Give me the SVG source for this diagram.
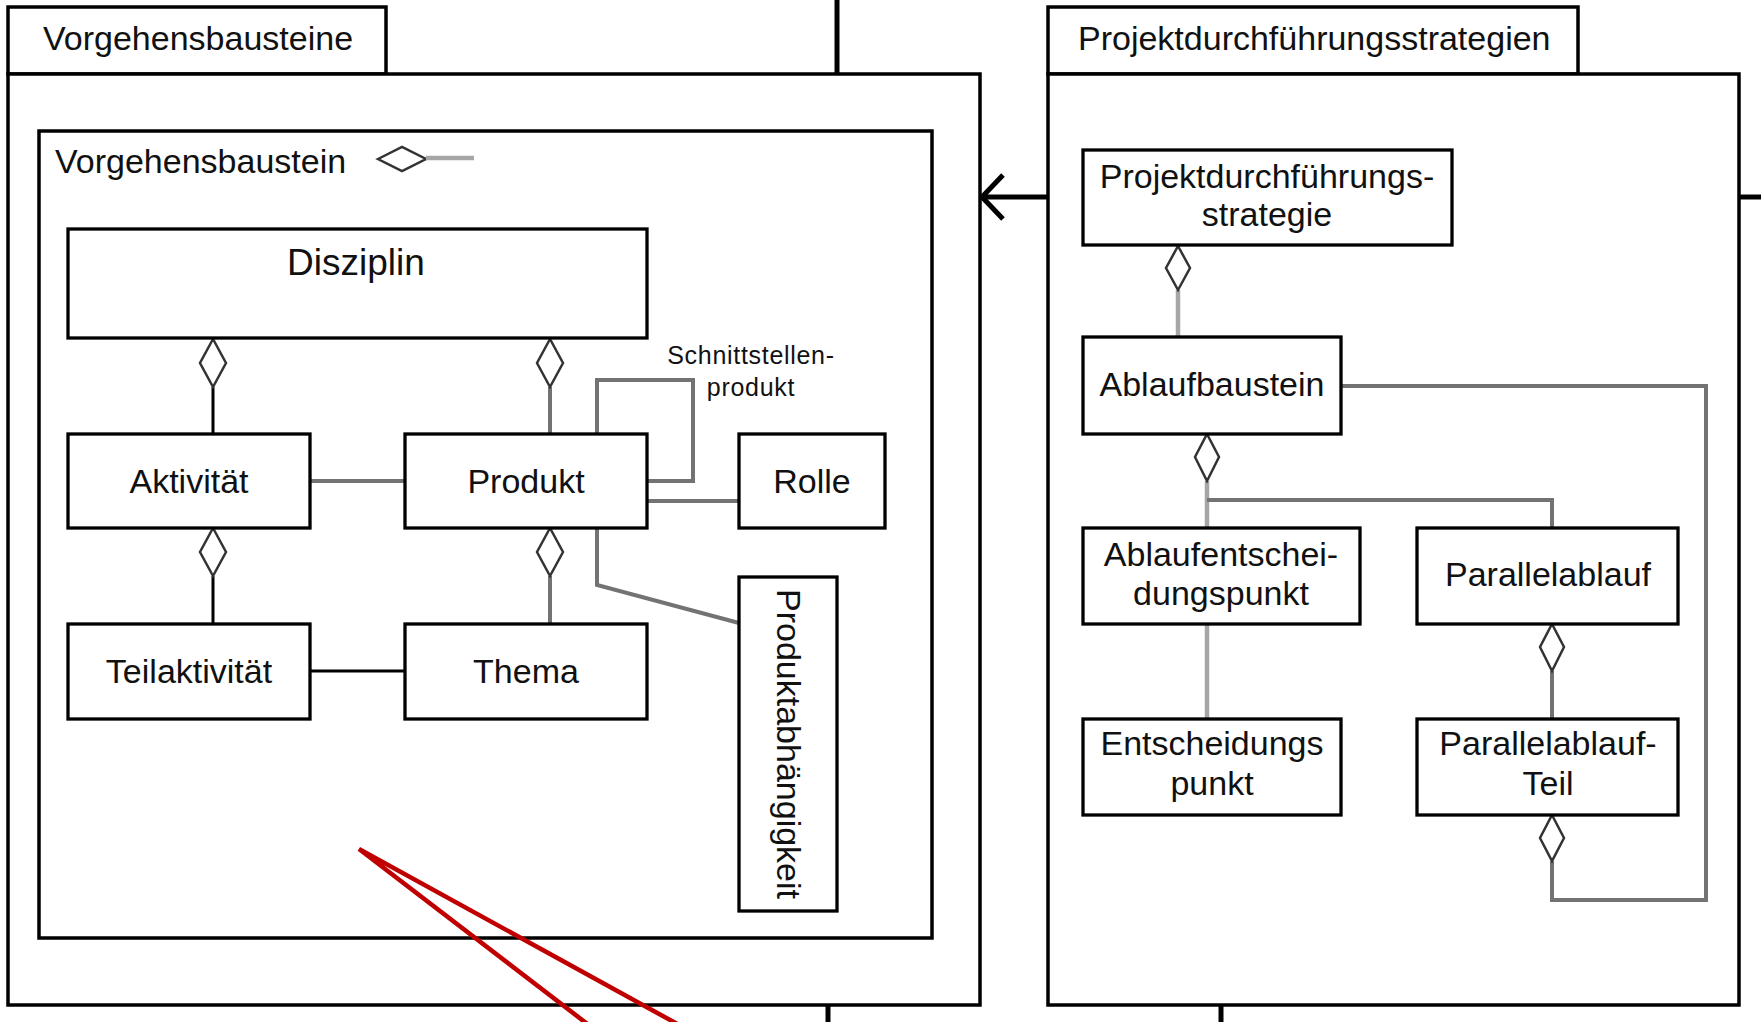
<svg xmlns="http://www.w3.org/2000/svg" width="1761" height="1022" viewBox="0 0 1761 1022">
<style>
.frame{fill:#fff;stroke:#000;stroke-width:3.5}
.box{fill:#fff;stroke:#000;stroke-width:3.3}
.t{font-family:"Liberation Sans",Arial,sans-serif;font-size:34px;fill:#111;text-anchor:middle}
.s{text-anchor:start}
.sm{font-size:25px;letter-spacing:0.7px}
.g{fill:none;stroke:#737373;stroke-width:4}
.lg{fill:none;stroke:#a6a6a6;stroke-width:4.5}
.k{fill:none;stroke:#000;stroke-width:3}
.kk{fill:none;stroke:#000;stroke-width:5}
.dia{fill:#fff;stroke:#333;stroke-width:2.5}
.red{fill:none;stroke:#c00000;stroke-width:4.5;stroke-linejoin:miter}
</style>
<rect x="0" y="0" width="1761" height="1022" fill="#fff"/>

<g id="pkg-vorgehensbausteine">
  <rect class="frame" x="8" y="7" width="378" height="67"/>
  <rect class="frame" x="8" y="74" width="972" height="931"/>
  <text class="t s" x="43" y="50">Vorgehensbausteine</text>
</g>
<g id="pkg-projektdurchfuehrungsstrategien">
  <rect class="frame" x="1048" y="7" width="530" height="67"/>
  <rect class="frame" x="1048" y="74" width="691" height="931"/>
  <text class="t s" x="1078" y="50">Projektdurchführungsstrategien</text>
</g>
<g id="frame-vorgehensbaustein">
  <rect class="frame" x="39" y="131" width="893" height="807"/>
  <text class="t s" x="55" y="173">Vorgehensbaustein</text>
  <path class="dia" d="M378,159 L402,147 L426,159 L402,171 Z"/>
  <line class="lg" x1="426" y1="158" x2="474" y2="158" stroke-width="5"/>
</g>

<g id="connectors">
  <!-- external stubs -->
  <line class="kk" x1="837" y1="0" x2="837" y2="74"/>
  <line class="kk" x1="828" y1="1005" x2="828" y2="1022"/>
  <line class="kk" x1="1221" y1="1005" x2="1221" y2="1022"/>
  <line class="kk" x1="1739" y1="197" x2="1761" y2="197" stroke-width="6"/>
  <!-- package dependency arrow -->
  <line class="kk" x1="1048" y1="197" x2="984" y2="197" stroke-width="6"/>
  <polyline class="kk" points="1003,175 982,197 1003,219" stroke-width="6"/>
  <!-- left side -->
  <line class="k" x1="213" y1="387" x2="213" y2="434"/>
  <line class="g" x1="550" y1="387" x2="550" y2="434" stroke-width="3"/>
  <line class="g" x1="310" y1="481" x2="405" y2="481"/>
  <line class="g" x1="647" y1="501" x2="739" y2="501"/>
  <polyline class="g" points="597,434 597,380 693,380 693,481 647,481"/>
  <line class="k" x1="213" y1="576" x2="213" y2="624"/>
  <line class="g" x1="550" y1="576" x2="550" y2="624" stroke-width="3"/>
  <line class="k" x1="310" y1="671" x2="405" y2="671"/>
  <polyline class="g" points="597,528 597,585 739,623" stroke-width="3"/>
  <path class="dia" d="M213,339 L226,363 L213,387 L200,363 Z"/>
  <path class="dia" d="M550,339 L563,363 L550,387 L537,363 Z"/>
  <path class="dia" d="M213,528 L226,552 L213,576 L200,552 Z"/>
  <path class="dia" d="M550,528 L563,552 L550,576 L537,552 Z"/>
  <!-- right side -->
  <line class="lg" x1="1178" y1="290" x2="1178" y2="337"/>
  <polyline class="g" points="1341,386 1706,386 1706,900 1552,900 1552,861"/>
  <line class="lg" x1="1207" y1="481" x2="1207" y2="528"/>
  <polyline class="g" points="1207,500 1552,500 1552,528"/>
  <line class="lg" x1="1207" y1="624" x2="1207" y2="719"/>
  <line class="g" x1="1552" y1="671" x2="1552" y2="719" stroke-width="3"/>
  <path class="dia" d="M1178,246 L1190,268 L1178,290 L1166,268 Z"/>
  <path class="dia" d="M1207,434 L1219,457 L1207,481 L1195,457 Z"/>
  <path class="dia" d="M1552,624 L1564,647 L1552,671 L1540,647 Z"/>
  <path class="dia" d="M1552,815 L1564,838 L1552,861 L1540,838 Z"/>
  <!-- labels -->
  <text class="t sm" x="751" y="364">Schnittstellen-</text>
  <text class="t sm" x="751" y="396">produkt</text>
</g>

<g id="node-disziplin">
  <rect class="box" x="68" y="229" width="579" height="109"/>
  <text class="t" x="356" y="275" font-size="37" style="font-size:37px">Disziplin</text>
</g>
<g id="node-aktivitaet">
  <rect class="box" x="68" y="434" width="242" height="94"/>
  <text class="t" x="189" y="493">Aktivität</text>
</g>
<g id="node-produkt">
  <rect class="box" x="405" y="434" width="242" height="94"/>
  <text class="t" x="526" y="493">Produkt</text>
</g>
<g id="node-rolle">
  <rect class="box" x="739" y="434" width="146" height="94"/>
  <text class="t" x="812" y="493">Rolle</text>
</g>
<g id="node-teilaktivitaet">
  <rect class="box" x="68" y="624" width="242" height="95"/>
  <text class="t" x="189" y="683">Teilaktivität</text>
</g>
<g id="node-thema">
  <rect class="box" x="405" y="624" width="242" height="95"/>
  <text class="t" x="526" y="683">Thema</text>
</g>
<g id="node-produktabhaengigkeit">
  <rect class="box" x="739" y="577" width="98" height="334"/>
  <text class="t" x="0" y="0" dominant-baseline="central" transform="translate(789,744) rotate(90)">Produktabhängigkeit</text>
</g>

<g id="node-pds">
  <rect class="box" x="1083" y="150" width="369" height="95"/>
  <text class="t" x="1267" y="188">Projektdurchführungs-</text>
  <text class="t" x="1267" y="226">strategie</text>
</g>
<g id="node-ablaufbaustein">
  <rect class="box" x="1083" y="337" width="258" height="97"/>
  <text class="t" x="1212" y="396">Ablaufbaustein</text>
</g>
<g id="node-ablaufentscheidungspunkt">
  <rect class="box" x="1083" y="528" width="277" height="96"/>
  <text class="t" x="1221" y="566">Ablaufentschei-</text>
  <text class="t" x="1221" y="605">dungspunkt</text>
</g>
<g id="node-parallelablauf">
  <rect class="box" x="1417" y="528" width="261" height="96"/>
  <text class="t" x="1548" y="586">Parallelablauf</text>
</g>
<g id="node-entscheidungspunkt">
  <rect class="box" x="1083" y="719" width="258" height="96"/>
  <text class="t" x="1212" y="755">Entscheidungs</text>
  <text class="t" x="1212" y="795">punkt</text>
</g>
<g id="node-parallelablauf-teil">
  <rect class="box" x="1417" y="719" width="261" height="96"/>
  <text class="t" x="1548" y="755">Parallelablauf-</text>
  <text class="t" x="1548" y="795">Teil</text>
</g>

<polyline class="red" points="590,1026 359,849 681,1026"/>
</svg>
